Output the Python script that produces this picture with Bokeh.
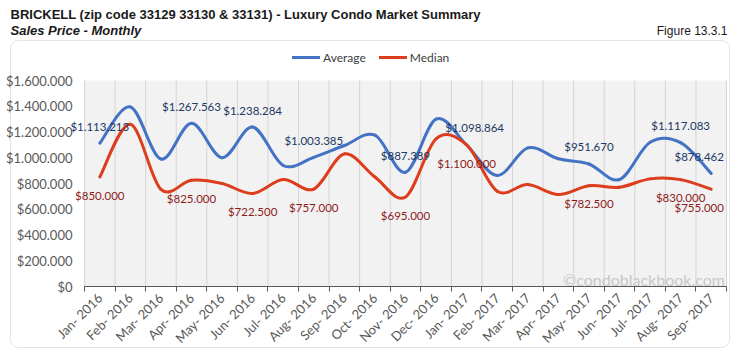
import math
from bokeh.plotting import figure
from bokeh.models import (ColumnDataSource, Range1d, FixedTicker, Label, BoxAnnotation,
                          Legend, LegendItem, LinearAxis)
from bokeh.core.properties import value
from bokeh.embed import file_html
from bokeh.resources import INLINE

# ---------------- data ----------------
months = ["Jan- 2016", "Feb- 2016", "Mar- 2016", "Apr- 2016", "May- 2016", "Jun- 2016",
          "Jul- 2016", "Aug- 2016", "Sep- 2016", "Oct- 2016", "Nov- 2016", "Dec- 2016",
          "Jan- 2017", "Feb- 2017", "Mar- 2017", "Apr- 2017", "May- 2017", "Jun- 2017",
          "Jul- 2017", "Aug- 2017", "Sep- 2017"]
average = [1113213, 1395000, 990000, 1267563, 1000000, 1238284, 940000, 1003385, 1095000,
           1175000, 887389, 1300000, 1098864, 862000, 1077000, 992000, 951670, 831000,
           1120000, 1117083, 878462]
median = [850000, 1260000, 755000, 825000, 800000, 722500, 831000, 757000, 1030000,
          850000, 695000, 1147000, 1100000, 740000, 792000, 714000, 782500, 771000,
          836000, 830000, 755000]
labelled = [0, 3, 5, 7, 10, 12, 16, 19, 20]
y_ticks = [0, 200000, 400000, 600000, 800000, 1000000, 1200000, 1400000, 1600000]
y_tick_labels = ["$0", "$200.000", "$400.000", "$600.000", "$800.000", "$1.000.000",
                 "$1.200.000", "$1.400.000", "$1.600.000"]

AVG_COLOR = "#4472c4"
MED_COLOR = "#dc3d1c"
AVG_TEXT = "#203864"
MED_TEXT = "#8e1b1b"
AXIS_TEXT = "#595959"
FONT = "Lato"
TFONT = "Liberation Sans"

# ---------------- layout (pixels) ----------------
W, H = 735, 355
PL, PR, PT, PB = 84, 726, 80, 286          # plot area in canvas pixels
N = len(months)
Y_MAX = y_ticks[-1]
UX = N / (PR - PL)                          # x units per pixel
UY = Y_MAX / (PB - PT)                      # y units per pixel


def X(px):
    return -0.5 + (px - PL) * UX


def Y(py):
    return (PB - py) * UY


def money(v):
    return "$" + f"{v:,.0f}".replace(",", ".")


def bezier_segments(ys, t=1.0 / 6.0):
    n = len(ys)
    xs = list(range(n))
    d = dict(x0=[], y0=[], x1=[], y1=[], cx0=[], cy0=[], cx1=[], cy1=[])
    for i in range(n - 1):
        ip = max(i - 1, 0)
        inn = min(i + 2, n - 1)
        d["x0"].append(xs[i]); d["y0"].append(ys[i])
        d["x1"].append(xs[i + 1]); d["y1"].append(ys[i + 1])
        d["cx0"].append(xs[i] + (xs[i + 1] - xs[ip]) * t)
        d["cy0"].append(ys[i] + (ys[i + 1] - ys[ip]) * t)
        d["cx1"].append(xs[i + 1] - (xs[inn] - xs[i]) * t)
        d["cy1"].append(ys[i + 1] - (ys[inn] - ys[i]) * t)
    return ColumnDataSource(d)


p = figure(width=W, height=H, output_backend="svg", toolbar_location=None,
           x_range=Range1d(X(0), X(W)), y_range=Range1d(Y(H), Y(0)),
           x_axis_location=None, y_axis_location=None,
           min_border=0, min_border_left=0, min_border_right=0,
           min_border_top=0, min_border_bottom=0)
p.background_fill_color = "white"
p.border_fill_color = "white"
p.outline_line_color = None
p.xgrid.visible = False
p.ygrid.visible = False

# plot area background
p.add_layout(BoxAnnotation(left=-0.5, right=N - 0.5, bottom=0, top=Y_MAX,
                           fill_color="#f2f2f2", fill_alpha=1, line_color=None,
                           level="underlay"))

# vertical grid lines at category boundaries
bounds_x = [i - 0.5 for i in range(N + 1)]
p.segment(x0=bounds_x, y0=[0] * len(bounds_x), x1=bounds_x, y1=[Y_MAX] * len(bounds_x),
          line_color="#d4d4d4", line_width=1)

# x axis: labels at category centres, ticks at category boundaries
xt = FixedTicker(ticks=list(range(N)), minor_ticks=bounds_x)
xaxis = LinearAxis(ticker=xt, fixed_location=0, bounds=(-0.5, N - 0.5))
xaxis.major_label_overrides = {i: m for i, m in enumerate(months)}
xaxis.major_label_orientation = math.pi / 4
xaxis.major_tick_line_color = None
xaxis.major_tick_out = 0
xaxis.major_tick_in = 0
xaxis.minor_tick_in = 0
xaxis.minor_tick_out = 5
xaxis.minor_tick_line_color = "#595959"
xaxis.axis_line_color = "#595959"
xaxis.major_label_text_font = FONT
xaxis.major_label_text_font_size = "13px"
xaxis.major_label_text_color = AXIS_TEXT
xaxis.major_label_standoff = 4
p.add_layout(xaxis, "below")

yaxis = LinearAxis(ticker=FixedTicker(ticks=y_ticks), fixed_location=-0.5, bounds=(0, Y_MAX))
yaxis.major_label_overrides = {t: l for t, l in zip(y_ticks, y_tick_labels)}
yaxis.axis_line_color = None
yaxis.major_tick_line_color = None
yaxis.minor_tick_line_color = None
yaxis.major_tick_out = 0
yaxis.major_tick_in = 0
yaxis.major_label_standoff = 12
yaxis.major_label_text_font = FONT
yaxis.major_label_text_font_size = "13px"
yaxis.major_label_text_color = AXIS_TEXT
p.add_layout(yaxis, "left")

# smooth lines
ra = p.bezier("x0", "y0", "x1", "y1", "cx0", "cy0", "cx1", "cy1",
              source=bezier_segments(average), line_color=AVG_COLOR, line_width=3,
              line_cap="round")
rm = p.bezier("x0", "y0", "x1", "y1", "cx0", "cy0", "cx1", "cy1",
              source=bezier_segments(median), line_color=MED_COLOR, line_width=3,
              line_cap="round")


# data labels
def xoff(i):
    if i == N - 1:
        return -12
    return 0


avg_src = ColumnDataSource(dict(
    x=[i for i in labelled], y=[average[i] for i in labelled],
    t=[money(average[i]) for i in labelled],
    xo=[(8 if i == 12 else xoff(i)) for i in labelled],
    yo=[(-18 if i == 12 else -17) for i in labelled]))
med_src = ColumnDataSource(dict(
    x=[i for i in labelled], y=[median[i] for i in labelled],
    t=[money(median[i]) for i in labelled],
    xo=[xoff(i) for i in labelled],
    yo=[(19 if i == 12 else 18) for i in labelled]))
for src, col in ((avg_src, AVG_TEXT), (med_src, MED_TEXT)):
    p.text("x", "y", text="t", source=src, x_offset="xo", y_offset="yo",
           text_align="center", text_baseline="middle", text_color=col,
           text_font=value(FONT), text_font_size="11.5px")

# watermark
p.add_layout(Label(x=N - 0.55, y=Y(279), text="\u00a9condoblackbook.com",
                   text_align="right", text_baseline="middle", text_color="#c8c8c8",
                   text_font=FONT, text_font_size="16px"))

# legend
legend = Legend(items=[LegendItem(label="Average", renderers=[ra]),
                       LegendItem(label="Median", renderers=[rm])],
                orientation="horizontal", location=(292, H - 65),
                padding=0, margin=0, spacing=13, glyph_width=28, glyph_height=16,
                label_height=16, label_standoff=3,
                label_text_font=FONT, label_text_font_size="12px",
                label_text_color="#404040", background_fill_alpha=0,
                border_line_color=None)
p.add_layout(legend, "center")

# outer rounded border and titles
p.add_layout(BoxAnnotation(left=X(10), right=X(729), top=Y(40), bottom=Y(347),
                           fill_color=None, line_color="#a6a6a6", line_width=1,
                           border_radius=8, level="underlay"))
p.add_layout(Label(x=X(10), y=Y(14),
                   text="BRICKELL (zip code 33129 33130 & 33131) - Luxury Condo Market Summary",
                   text_align="left", text_baseline="middle", text_color="#1a1a1a",
                   text_font=TFONT, text_font_size="13px",
                   text_font_style="bold"))
p.add_layout(Label(x=X(10), y=Y(30),
                   text="Sales Price - Monthly",
                   text_align="left", text_baseline="middle", text_color="#1a1a1a",
                   text_font=TFONT, text_font_size="13px",
                   text_font_style="bold italic"))
p.add_layout(Label(x=X(727), y=Y(30),
                   text="Figure 13.3.1",
                   text_align="right", text_baseline="middle", text_color="#1a1a1a",
                   text_font=TFONT, text_font_size="12px"))

open("out.html", "w").write(file_html(p, INLINE))
